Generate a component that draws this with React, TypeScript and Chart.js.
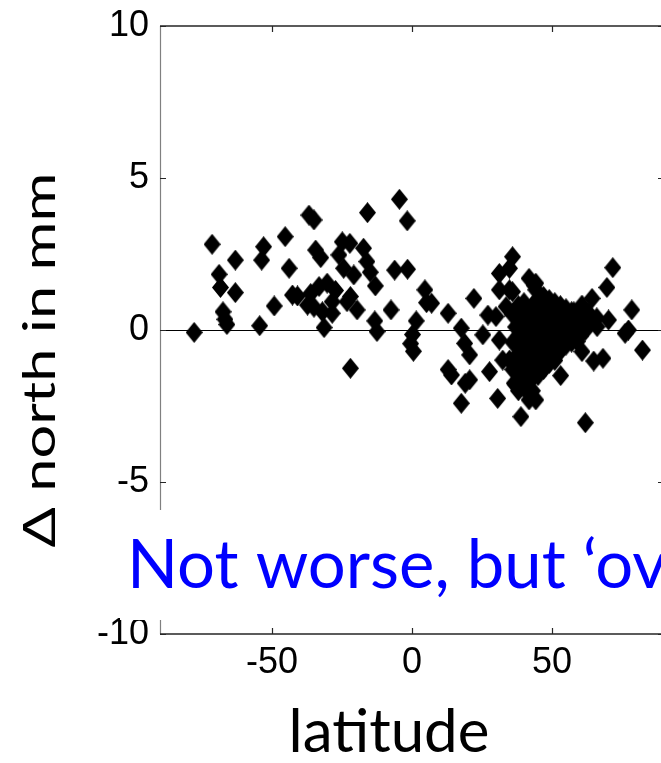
import React, { useEffect, useRef } from "react";
import { Chart, registerables } from "chart.js";
Chart.register(...registerables);

const X_MIN = -90;
const X_MAX = 90;
const Y_MIN = -10;
const Y_MAX = 10;
const xTicks = [-50, 0, 50];
const yTicks = [-10, -5, 0, 5, 10];
const xTitle = "latitude";
const yTitle = "Δ north in mm";
const note = "Not worse, but ‘ov";

// latitude (deg) of each station
const latitude = [
  -77.8, -71.4, -63.1, -68.9, -68.4, -63.1, -67.5, -66.8, -66.1, -54.4,
  -53.0, -53.7, -45.3, -43.9, -49.2, -42.7, -40.9, -36.8, -35.0, -37.3,
  -34.4, -32.6, -24.9, -22.2, -26.1, -24.4, -20.8, -17.3, -16.1, -14.9,
  -13.1, -15.9, -4.5, -1.7, -6.2, -1.6, 4.6, 5.2, -36.2, -33.2,
  -30.3, -35.0, -28.5, -28.5, -32.0, -31.4, -23.2, -19.6, -22.0, -27.3,
  -13.3, -12.5, -7.5, 1.5, 0.2, -0.5, 0.5, -22.0,
  7.0, 12.9, 22.1, 27.1, 17.6, 25.3, 18.8, 20.6, 14.1, 12.9,
  20.6, 19.0, 17.6, 27.7, 30.6, 32.4, 35.9, 34.8, 31.2, 41.8,
  34.8, 30.0, 38.9, 41.8, 44.2, 44.2, 31.2, 35.9, 33.6, 47.2,
  36.5, 31.2, 34.8, 43.6, 43.6, 44.2, 53.1, 61.9, 71.7, 69.6,
  78.5, 77.3, 76.1, 82.3, 64.9, 68.2, 60.7, 64.3, 70.2, 66.1,
  59.0, 53.7, 57.8, 60.7, 63.1,
  36, 36, 36,
  37, 37, 37,
  38, 38, 38, 38,
  39, 39, 39,
  40, 40, 40, 40,
  41, 41, 41,
  42, 42, 42,
  43, 43, 43, 43,
  44, 44, 44,
  45, 45, 45, 45,
  46, 46, 46,
  47, 47, 47, 47,
  48, 48, 48,
  49, 49, 49, 49,
  50, 50, 50,
  51, 51, 51, 51,
  52, 52, 52,
  53, 53, 53,
  54, 54,
  55, 55, 55,
  56, 56,
  57, 57, 57,
  58, 58,
  59, 59,
  60, 60,
  62, 62,
  64,
  66,
];

// north displacement difference (mm)
const deltaNorth = [
  -0.08, 2.82, 2.30, 1.83, 1.40, 1.23, 0.60, 0.35, 0.18, 0.14,
  2.74, 2.30, 3.07, 2.03, 0.79, 1.15, 1.12, 3.78, 3.62, 0.82,
  2.63, 2.38, 2.90, 2.85, 2.47, 2.03, 1.81, 2.69, 2.25, 1.90,
  1.45, 3.86, 4.30, 3.59, 1.97, 2.00, 1.32, 0.90, 1.20, 1.43,
  1.54, 0.75, 0.93, 0.55, 0.60, 0.08, 0.93, 0.66, 1.10, 1.30,
  0.30, -0.05, 0.66, 0.30, -0.15, -0.45, -0.70, -1.26,
  0.88, 0.55, 1.04, 0.49, 0.06, -0.16, -0.44, -0.82, -1.48, -1.30,
  -1.64, -1.75, -2.41, -1.37, -2.25, -0.99, 2.41, 2.03, 1.86, 1.70,
  1.32, 0.44, -2.85, -2.30, 1.54, 1.32, 1.32, 1.26, 0.77, 0.82,
  -1.75, -0.33, -0.99, 1.48, 0.66, -2.30, -1.50, -3.05, 2.05, 1.40,
  0.66, 0.00, -0.11, -0.66, -1.02, -0.93, -0.71, 1.04, 0.33, 0.11,
  -0.38, 0.55, 0.60, 0.82, 0.55,
  0.5, -0.4, -1.3,
  0.1, -0.9, -1.8,
  0.8, -0.2, -1.2, -2.0,
  0.4, -0.6, -1.5,
  0.9, 0.0, -1.0, -1.9,
  0.6, -0.3, -1.3,
  0.2, -0.7, -1.7,
  0.8, -0.1, -1.1, -2.0,
  0.4, -0.5, -1.4,
  1.0, 0.1, -0.8, -1.5,
  0.6, -0.3, -1.2,
  1.1, 0.2, -0.6, -1.3,
  0.7, -0.1, -1.0,
  1.0, 0.4, -0.4, -1.1,
  0.7, 0.0, -0.8,
  0.9, 0.3, -0.4, -1.0,
  0.5, -0.2, -0.8,
  0.8, 0.1, -0.6,
  0.4, -0.3,
  0.7, 0.0, -0.5,
  0.4, -0.2,
  0.6, 0.1, -0.4,
  0.3, -0.1,
  0.5, 0.1,
  0.3, -0.2,
  0.4, 0.0,
  0.3,
  0.4,
];

const LABEL_FONT = 'Lato, "Open Sans", "DejaVu Sans", sans-serif';
const TICK_FONT = '"Liberation Sans", Arial, sans-serif';

function makeDiamond(): HTMLCanvasElement {
  const c = document.createElement("canvas");
  c.width = 17;
  c.height = 21;
  const m = c.getContext("2d")!;
  m.fillStyle = "#000";
  m.beginPath();
  m.moveTo(8.5, 0);
  m.lineTo(17, 10.5);
  m.lineTo(8.5, 21);
  m.lineTo(0, 10.5);
  m.closePath();
  m.fill();
  return c;
}

const decor = {
  id: "decor",
  afterDraw(chart: any) {
    const { ctx, chartArea: a, scales } = chart;
    const xs = scales.x;
    const ys = scales.y;
    ctx.save();
    // box
    ctx.strokeStyle = "#808080";
    ctx.lineWidth = 1.2;
    ctx.beginPath();
    ctx.moveTo(a.left + 0.5, a.top);
    ctx.lineTo(a.left + 0.5, a.bottom);
    ctx.stroke();
    ctx.strokeStyle = "#262626";
    ctx.lineWidth = 1.5;
    ctx.beginPath();
    ctx.moveTo(a.left, a.top);
    ctx.lineTo(a.right, a.top);
    ctx.moveTo(a.left, a.bottom);
    ctx.lineTo(a.right, a.bottom);
    ctx.moveTo(a.right, a.top);
    ctx.lineTo(a.right, a.bottom);
    ctx.stroke();
    // inward ticks
    ctx.lineWidth = 1.2;
    ctx.beginPath();
    xTicks.forEach((v) => {
      const px = Math.round(xs.getPixelForValue(v)) + 0.5;
      ctx.moveTo(px, a.bottom);
      ctx.lineTo(px, a.bottom - 6);
      ctx.moveTo(px, a.top);
      ctx.lineTo(px, a.top + 6);
    });
    yTicks.forEach((v) => {
      const py = Math.round(ys.getPixelForValue(v)) + 0.5;
      ctx.moveTo(a.left, py);
      ctx.lineTo(a.left + 6, py);
      ctx.moveTo(a.right, py);
      ctx.lineTo(a.right - 6, py);
    });
    ctx.stroke();

    // axis titles
    ctx.fillStyle = "#000";
    ctx.textAlign = "center";
    ctx.textBaseline = "alphabetic";
    ctx.font = `60px ${LABEL_FONT}`;
    ctx.fillText(xTitle, 389, 752);

    ctx.font = `44px ${LABEL_FONT}`;
    const w = ctx.measureText(yTitle).width;
    ctx.save();
    ctx.translate(55, 360);
    ctx.rotate(-Math.PI / 2);
    ctx.scale(375 / w, 1);
    ctx.fillText(yTitle, 0, 0);
    ctx.restore();

    // overlay note with white backing
    ctx.fillStyle = "#ffffff";
    ctx.fillRect(120, 510, 700, 110);
    ctx.fillStyle = "#0000ff";
    ctx.textAlign = "left";
    ctx.font = `67px ${LABEL_FONT}`;
    ctx.fillText(note, 127, 588);
    ctx.restore();
  },
};

export default function App() {
  const ref = useRef<HTMLCanvasElement>(null);
  useEffect(() => {
    const canvas = ref.current!;
    const marker = makeDiamond();
    const points = latitude.map((x, i) => ({ x, y: deltaNorth[i] }));
    const chart = new Chart(canvas, {
      type: "scatter",
      data: {
        datasets: [
          {
            data: points,
            pointStyle: marker as any,
            pointRadius: 10,
            backgroundColor: "#000",
            borderColor: "#000",
          },
        ],
      },
      options: {
        responsive: false,
        animation: false,
        devicePixelRatio: 1,
        layout: { autoPadding: false, padding: { top: 26, right: 36, left: 0, bottom: 0 } },
        plugins: {
          legend: { display: false },
          tooltip: { enabled: false },
        },
        scales: {
          x: {
            type: "linear",
            min: X_MIN,
            max: X_MAX,
            afterBuildTicks: (s: any) => {
              s.ticks = xTicks.map((v) => ({ value: v }));
            },
            afterFit: (s: any) => {
              s.height = 129;
              s.paddingLeft = 0;
              s.paddingRight = 0;
            },
            border: { display: false },
            grid: { display: true, drawTicks: false, color: "rgba(0,0,0,0)" },
            ticks: {
              padding: 7,
              color: "#000",
              font: { family: TICK_FONT, size: 36 },
              maxRotation: 0,
              callback: (v: any) => String(v),
            },
          },
          y: {
            type: "linear",
            min: Y_MIN,
            max: Y_MAX,
            afterBuildTicks: (s: any) => {
              s.ticks = yTicks.map((v) => ({ value: v }));
            },
            afterFit: (s: any) => {
              s.width = 160;
              s.paddingTop = 0;
              s.paddingBottom = 0;
            },
            border: { display: false },
            grid: {
              drawTicks: false,
              lineWidth: 1,
              color: (c: any) => (c.tick && c.tick.value === 0 ? "#000" : "rgba(0,0,0,0)"),
            },
            ticks: {
              padding: 11,
              color: "#000",
              font: { family: TICK_FONT, size: 36 },
              callback: (v: any) => String(v),
            },
          },
        },
      },
      plugins: [decor],
    });
    return () => chart.destroy();
  }, []);

  return (
    <div
      style={{
        position: "fixed",
        left: 0,
        top: 0,
        width: 661,
        height: 763,
        overflow: "hidden",
        background: "#fff",
      }}
    >
      <canvas ref={ref} width={700} height={763} style={{ display: "block", width: 700, height: 763 }} />
    </div>
  );
}
